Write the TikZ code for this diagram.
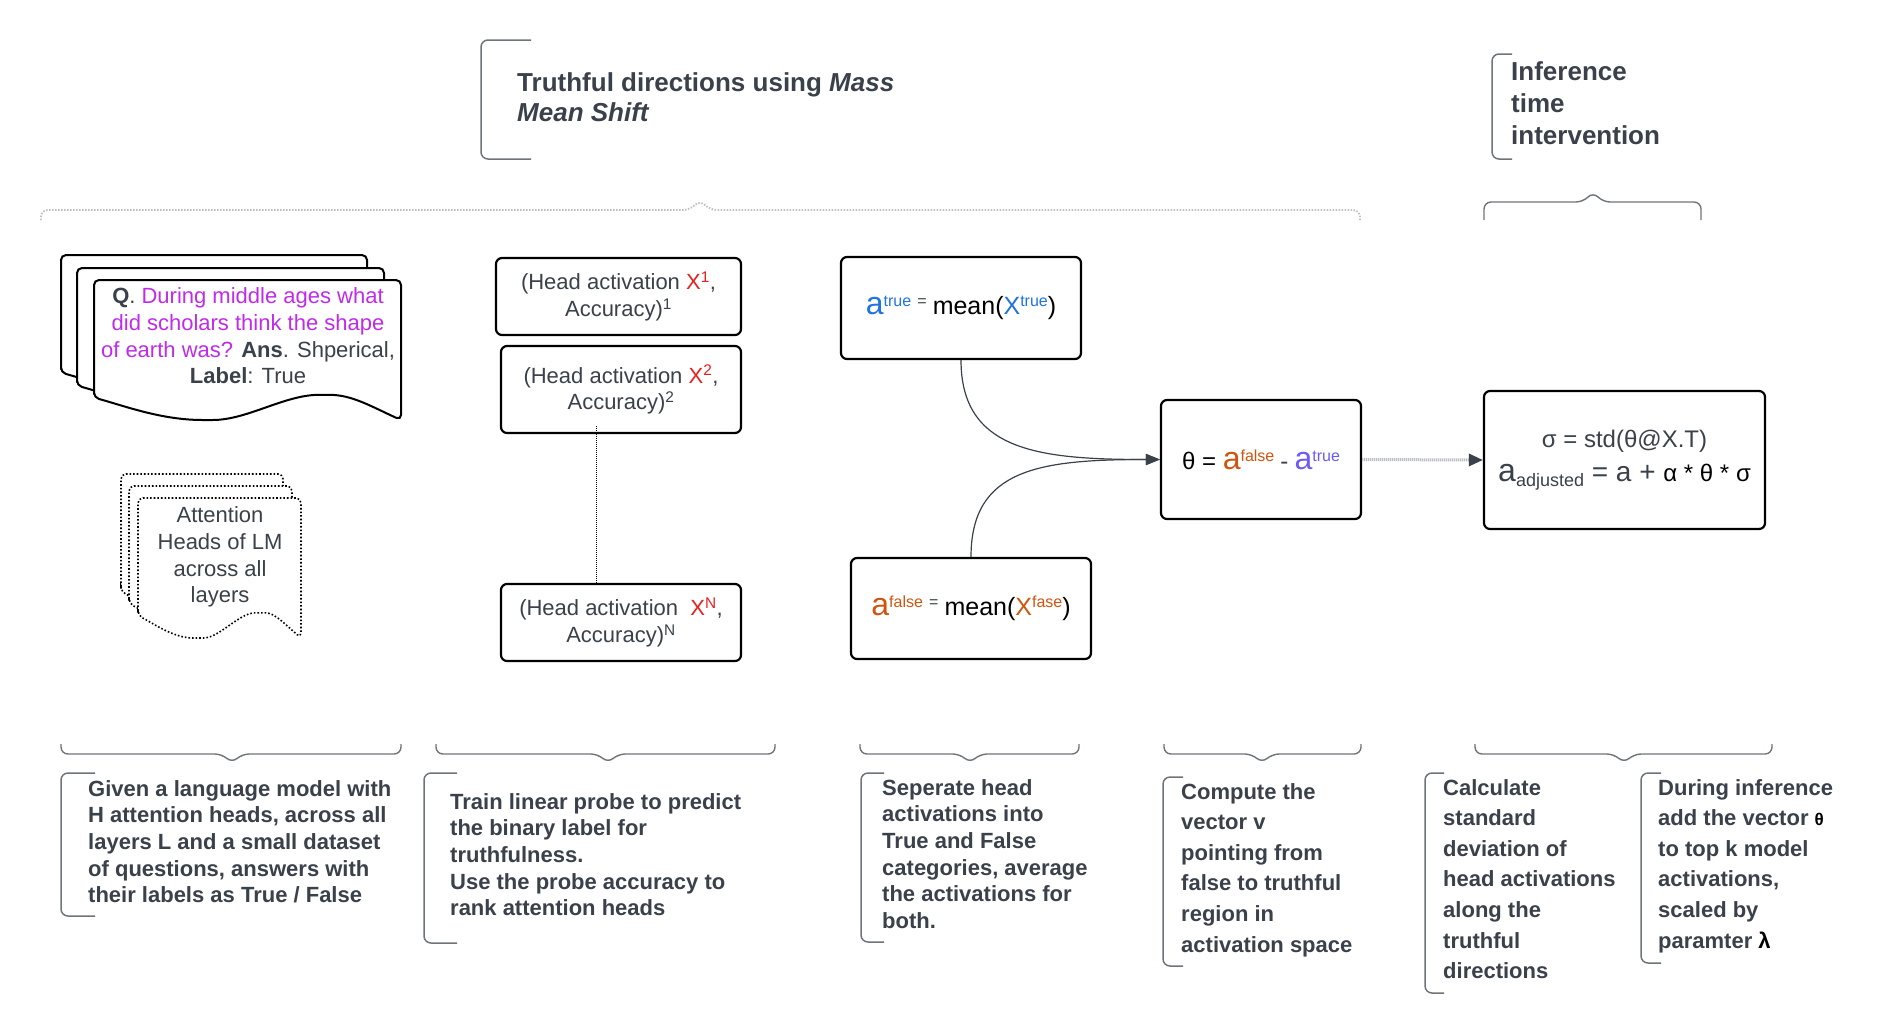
\documentclass[tikz,border=0pt]{standalone}
\usepackage{fontspec}
\setmainfont{Liberation Sans}
\usetikzlibrary{arrows.meta,positioning}

\definecolor{inkgray}{HTML}{3A414A}
\definecolor{rulegray}{HTML}{6F747B}
\definecolor{dotgray}{HTML}{BCBFC3}
\definecolor{qpurple}{HTML}{C02BEB}
\definecolor{xred}{HTML}{E8201E}
\definecolor{trueblue}{HTML}{1F74E0}
\definecolor{falseorange}{HTML}{D0550F}
\definecolor{thetablue}{HTML}{6B5CF6}

\newcommand{\fs}[2]{\fontsize{#1pt}{#2pt}\selectfont}
\newcommand{\hiscript}[1]{\raisebox{8pt}{\fs{16}{16}#1}}
\newcommand{\loscript}[1]{\raisebox{-5pt}{\fs{18}{18}#1}}
% sheet with a wavy bottom: style, left, top, width, height
\newcommand{\docsheet}[5]{%
  \draw[#1] (#2,{#3+0.84*#5}) -- (#2,#3) -- ({#2+#4},#3) -- ({#2+#4},{#3+#5})
    .. controls ({#2+0.9*#4},{#3+0.9*#5}) and ({#2+0.84*#4},{#3+0.82*#5}) .. ({#2+0.75*#4},{#3+0.82*#5})
    .. controls ({#2+0.62*#4},{#3+0.82*#5}) and ({#2+0.5*#4},{#3+#5}) .. ({#2+0.37*#4},{#3+#5})
    .. controls ({#2+0.22*#4},{#3+#5}) and ({#2+0.1*#4},{#3+0.9*#5}) .. cycle;}

\begin{document}
\begin{tikzpicture}[x=1pt, y=-1pt, every node/.style={font=\fs{22}{26.7}, text=inkgray, inner sep=0pt},
    card/.style={draw=black, line width=2pt, fill=white, rounded corners=5pt},
    ghostcard/.style={draw=black, line width=1.6pt, dotted, fill=white, rounded corners=5pt},
    box/.style={draw=black, line width=2.2pt, rounded corners=6pt, fill=white, align=center},
    note/.style={font=\fs{22}{26.7}\bfseries, align=left, anchor=north west},
    widenote/.style={note, font=\fs{22}{30.6}\bfseries},
    bracket/.style={draw=rulegray, line width=1.5pt, rounded corners=7pt},
    brace/.style={draw=rulegray, line width=1.4pt, rounded corners=7pt},
    dotbrace/.style={draw=dotgray, line width=1.8pt, dash pattern=on 1.5pt off 1.5pt, rounded corners=7pt},
    link/.style={draw=inkgray, line width=1.2pt, -{Triangle[length=14pt,width=11pt]}},
    graylink/.style={draw=dotgray, line width=3pt, dash pattern=on 1.2pt off 0.8pt, -{Triangle[length=14pt,width=12pt,color=inkgray]}}]
    \fill[white] (0,0) rectangle (1881,1034);
    \useasboundingbox (0,0) rectangle (1881,1034);

    % headings
    \draw[bracket] (531,40) -- (481,40) -- (481,159) -- (531,159);
    \node[font=\fs{26}{30}\bfseries, align=left, anchor=north west] (title) at (517,72) {Truthful directions using \textit{Mass}\\\textit{Mean Shift}};
    \draw[bracket] (1512,54) -- (1492,54) -- (1492,159) -- (1512,159);
    \node[font=\fs{26}{32}\bfseries, align=left, anchor=north west] (iti) at (1511,61) {Inference\\time\\intervention};
    \draw[dotbrace] (41,220) -- (41,210) -- (690,210) -- (700,200) -- (710,210) -- (1360,210) -- (1360,220);
    \draw[brace] (1484,220) -- (1484,202) -- (1583,202) -- (1593,192) -- (1603,202) -- (1701,202) -- (1701,220);

    % dataset and heads
    \docsheet{card}{61}{255}{306}{140}
    \docsheet{card}{77}{268}{307}{140}
    \docsheet{card}{94}{280}{307}{140}
    \node[align=center] (qa) at (248,336) {{\bfseries Q}. {\color{qpurple}During middle ages what}\\
        {\color{qpurple}did scholars think the shape}\\
        {\color{qpurple}of earth was?} {\bfseries Ans}. Shperical,\\
        {\bfseries Label}: True};
    \docsheet{ghostcard}{121}{474}{162}{140}
    \docsheet{ghostcard}{129}{486}{163}{140}
    \docsheet{ghostcard}{138}{498}{163}{140}
    \node[align=center] (heads) at (220,557) {Attention\\Heads of LM\\across all\\layers};

    % probes
    \node[box, minimum width=245pt, minimum height=77pt] (head1) at (618.5,296.5) {(Head activation {\color{xred}X\textsuperscript{1}},\\Accuracy)\textsuperscript{1}};
    \node[box, minimum width=240pt, minimum height=87pt] (head2) at (621,389.5) {(Head activation {\color{xred}X\textsuperscript{2}},\\Accuracy)\textsuperscript{2}};
    \node[box, minimum width=240pt, minimum height=77pt] (headN) at (621,622.5) {(Head activation\hspace{6pt} {\color{xred}X\textsuperscript{N}},\\Accuracy)\textsuperscript{N}};
    \draw[black, line width=1pt, densely dotted] ([xshift=-25pt,yshift=8pt]head2.south) -- ([xshift=-25pt]headN.north);

    % means and direction
    \node[box, minimum width=240pt, minimum height=102pt] (meantrue) at (961,308) {{\fs{32}{32}\color{trueblue}a}\hiscript{\color{trueblue}true} \hiscript{=} {\fs{25}{25}\color{black}mean(}{\fs{25}{25}\color{trueblue}X}\hiscript{\color{trueblue}true}{\fs{25}{25}\color{black})}};
    \node[box, minimum width=240pt, minimum height=101pt] (meanfalse) at (971,608.5) {{\fs{32}{32}\color{falseorange}a}\hiscript{\color{falseorange}false} \hiscript{=} {\fs{25}{25}\color{black}mean(}{\fs{25}{25}\color{falseorange}X}\hiscript{\color{falseorange}fase}{\fs{25}{25}\color{black})}};
    \node[box, minimum width=200pt, minimum height=119pt] (theta) at (1261,459.5) {{\fs{24}{24}\color{black}θ = }{\fs{32}{32}\color{falseorange}a}\hiscript{\color{falseorange}false} {\fs{24}{24}-} {\fs{32}{32}\color{thetablue}a}\hiscript{\color{thetablue}true}};
    \node[box, minimum width=281pt, minimum height=138pt, font=\fs{24}{34}] (std) at (1624.5,460) {σ = std(θ@X.T)\\{\fs{32}{32}a}\loscript{adjusted}{\fs{28}{28} = a + }{\color{black}α * θ * σ}};
    \draw[link] (meantrue.south) .. controls +(0,91) and +(-121,0) .. (theta.west);
    \draw[link] (meanfalse.north) .. controls +(0,-88) and +(-121,0) .. (theta.west);
    \draw[graylink] (theta.east) -- (std.west);

    % step notes
    \draw[brace] (61,744) -- (61,754) -- (222,754) -- (232,763) -- (242,754) -- (401,754) -- (401,744);
    \draw[brace] (436,744) -- (436,754) -- (598,754) -- (608,763) -- (618,754) -- (775,754) -- (775,744);
    \draw[brace] (860,744) -- (860,754) -- (960,754) -- (970,763) -- (980,754) -- (1079,754) -- (1079,744);
    \draw[brace] (1164,744) -- (1164,754) -- (1252,754) -- (1262,763) -- (1272,754) -- (1361,754) -- (1361,744);
    \draw[brace] (1475,744) -- (1475,754) -- (1614,754) -- (1624,763) -- (1634,754) -- (1772,754) -- (1772,744);

    \draw[bracket] (95,773) -- (61,773) -- (61,916) -- (95,916);
    \node[note] (given) at (88,780) {Given a language model with\\H attention heads, across all\\layers L and a small dataset\\of questions, answers with\\their labels as True / False};
    \draw[bracket] (457,773) -- (424,773) -- (424,943) -- (457,943);
    \node[note] (probe) at (450,793) {Train linear probe to predict\\the binary label for\\truthfulness.\\Use the probe accuracy to\\rank attention heads};
    \draw[bracket] (884,773) -- (861,773) -- (861,942) -- (884,942);
    \node[note] (split) at (882,779) {Seperate head\\activations into\\True and False\\categories, average\\the activations for\\both.};
    \draw[bracket] (1183,777) -- (1163,777) -- (1163,966) -- (1183,966);
    \node[widenote] (vector) at (1181,783) {Compute the\\vector v\\pointing from\\false to truthful\\region in\\activation space};
    \draw[bracket] (1444,773) -- (1425,773) -- (1425,993) -- (1444,993);
    \node[widenote] (spread) at (1443,779) {Calculate\\standard\\deviation of\\head activations\\along the\\truthful\\directions};
    \draw[bracket] (1661,773) -- (1641,773) -- (1641,963) -- (1661,963);
    \node[widenote] (shift) at (1658,779) {During inference\\add the vector {\fs{17}{17}\color{black}θ}\\to top k model\\activations,\\scaled by\\paramter {\color{black}λ}};
\end{tikzpicture}
\end{document}
